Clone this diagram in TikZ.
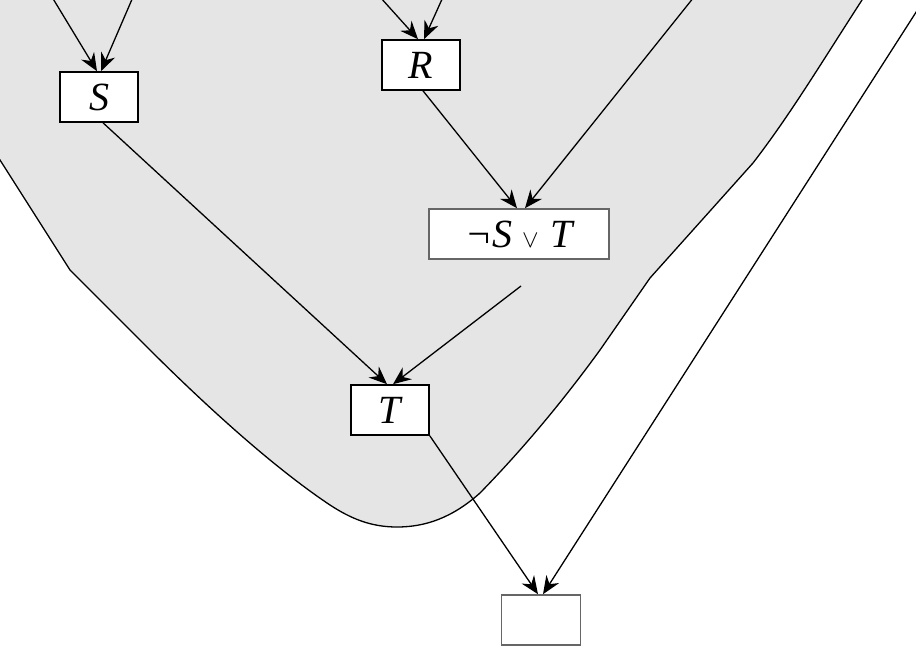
\documentclass[tikz,border=0pt]{standalone}
\usepackage{fontspec}
\setmainfont{Liberation Serif}
\usetikzlibrary{arrows.meta}
\tikzset{
  box/.style={draw=black, line width=1.6pt, fill=white, minimum width=78pt, minimum height=50pt, inner sep=0pt, font=\fontsize{40}{48}\selectfont\itshape},
  gbox/.style={box, draw=black!60},
  conn/.style={line width=1.3pt, -{Stealth[length=18pt,width=15pt,inset=6pt]}},
  blob/.style={fill=black!10, draw=black, line width=1.3pt}
}
\begin{document}
\begin{tikzpicture}[x=1pt,y=-1pt]
\useasboundingbox (0,0) rectangle (916,648);
\clip (0,0) rectangle (916,648);
\fill[white] (0,0) rectangle (916,648);
\draw[blob] (-20,-20) -- (866,-20) -- (862,0) .. controls (820,65) and (790,115) .. (753,163) -- (650,278) -- (600,350)
  .. controls (560,405) and (520,452) .. (480,493)
  .. controls (452,518) and (425,527) .. (397,527)
  .. controls (370,527) and (350,518) .. (330,505)
  .. controls (270,465) and (200,400) .. (147,347) -- (70,270) -- (0,160) -- (-20,128) -- cycle;
\node[box] (S) at (99,97) {S};
\node[box] (R) at (421,65) {R};
\node[gbox, minimum width=180pt] (N) at (519,234) {¬S\hspace{10pt}{\fontsize{24}{26}\selectfont$\vee$}\hspace{12pt}T};
\node[box] (T) at (390,410) {T};
\node[gbox, minimum width=79pt] (E) at (541,620) {};
\coordinate (a1) at (52,-3);
\coordinate (a2) at (133,-3);
\coordinate (a3) at (380,-3);
\coordinate (a4) at (443,-3);
\coordinate (a5) at (694,-3);
\coordinate (a6) at (521,286);
\coordinate (a7) at (920,6);
\draw[conn] (a1) -- ([xshift=-2pt]S.north);
\draw[conn] (a2) -- ([xshift=2pt]S.north);
\draw[conn] (a3) -- ([xshift=-3pt]R.north);
\draw[conn] (a4) -- ([xshift=3pt]R.north);
\draw[conn] ([xshift=2pt]R.south) -- ([xshift=-2pt]N.north);
\draw[conn] (a5) -- ([xshift=6pt]N.north);
\draw[conn] ([xshift=4pt]S.south) -- ([xshift=-3pt]T.north);
\draw[conn] (a6) -- ([xshift=3pt]T.north);
\draw[conn] (T.south east) -- ([xshift=-3pt]E.north);
\draw[conn] (a7) -- ([xshift=2pt]E.north);
\end{tikzpicture}
\end{document}
